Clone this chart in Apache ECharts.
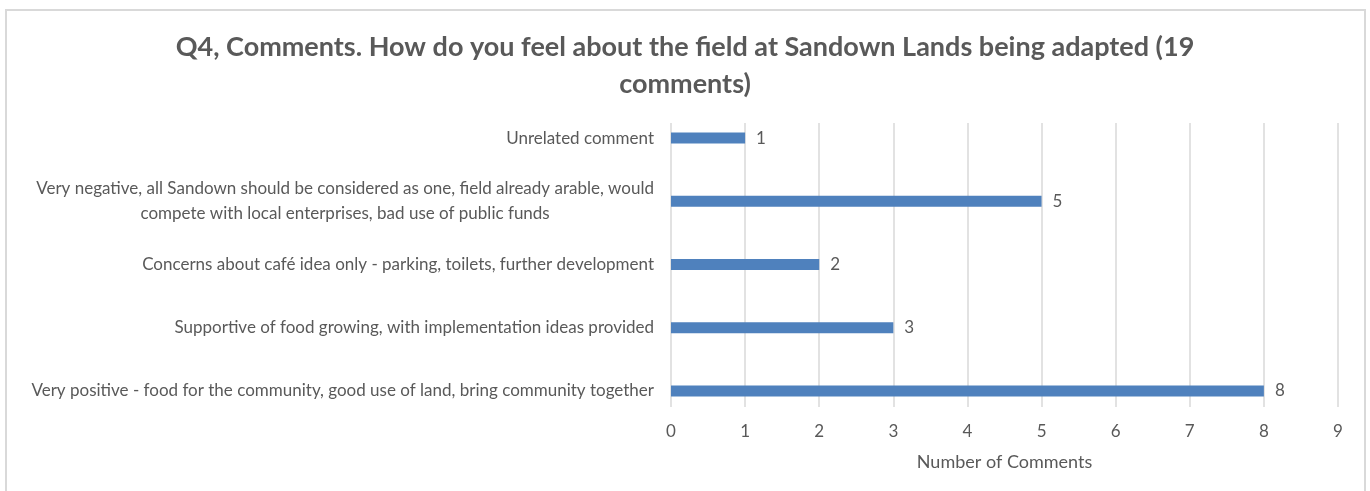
<!DOCTYPE html>
<html>
<head>
<meta charset="utf-8">
<script src="https://cdn.jsdelivr.net/npm/echarts@6/dist/echarts.min.js"></script>
<style>
html, body {margin:0; padding:0; background:#ffffff;}
#chart {width:1370px; height:491px;}
</style>
</head>
<body>
<div id="chart"></div>
<script>
// categories, top to bottom
var categories = [
	'Unrelated comment',
	'Very negative, all Sandown should be considered as one, field already arable, would\ncompete with local enterprises, bad use of public funds',
	'Concerns about café idea only - parking, toilets, further development',
	'Supportive of food growing, with implementation ideas provided',
	'Very positive - food for the community, good use of land, bring community together'
];
var counts = [1, 5, 2, 3, 8];
var xTicks = [0, 9, 1]; // min, max, interval

var grey = '#595959';
var font = 'Lato';

var chart = echarts.init(document.getElementById('chart'));
var option = {
	backgroundColor: '#ffffff',
	animation: false,
	title: {
		text: 'Q4, Comments. How do you feel about the field at Sandown Lands being adapted (19\ncomments)',
		left: 'center',
		top: 24,
		textStyle: {
			fontFamily: font,
			fontWeight: 'bold',
			fontSize: 27,
			lineHeight: 37,
			color: grey
		}
	},
	graphic: [{
		type: 'rect',
		shape: {x: 6, y: 10, width: 1359, height: 500},
		style: {fill: 'none', stroke: '#d9d9d9', lineWidth: 2},
		silent: true
	}],
	grid: [
		// bars
		{left: 671, right: 32, top: 106.5, height: 316},
		// gridlines + value labels
		{left: 671, right: 32, top: 123, height: 284}
	],
	xAxis: [
		{
			type: 'value', gridIndex: 0,
			min: xTicks[0], max: xTicks[1], interval: xTicks[2],
			show: false,
			splitLine: {show: false}
		},
		{
			type: 'value', gridIndex: 1,
			min: xTicks[0], max: xTicks[1], interval: xTicks[2],
			axisLine: {show: false},
			axisTick: {show: false},
			splitLine: {show: true, lineStyle: {color: '#d9d9d9', width: 1.5}},
			axisLabel: {color: grey, fontFamily: font, fontSize: 17, margin: 16},
			name: 'Number of Comments',
			nameLocation: 'middle',
			nameGap: 46,
			nameTextStyle: {color: grey, fontFamily: font, fontSize: 18}
		}
	],
	yAxis: [
		{
			type: 'category', gridIndex: 0,
			inverse: true,
			data: categories,
			axisLine: {show: false},
			axisTick: {show: false},
			axisLabel: {
				margin: 17,
				color: grey, fontFamily: font, fontSize: 17, lineHeight: 25,
				formatter: function (v) {
					// centre each line inside the label block, like the original
					return v.split('\n').map(function (s) { return '{c|' + s + '}'; }).join('\n');
				},
				rich: {
					c: {align: 'center', color: grey, fontFamily: font, fontSize: 17, lineHeight: 25}
				}
			}
		},
		{
			type: 'category', gridIndex: 1,
			data: categories,
			show: false
		}
	],
	series: [{
		type: 'bar',
		xAxisIndex: 0,
		yAxisIndex: 0,
		data: counts,
		barWidth: 11,
		itemStyle: {color: '#4f81bd'},
		label: {
			show: true,
			position: 'right',
			distance: 11,
			color: grey,
			fontFamily: font,
			fontSize: 17
		}
	}]
};
chart.setOption(option);
</script>
</body>
</html>
